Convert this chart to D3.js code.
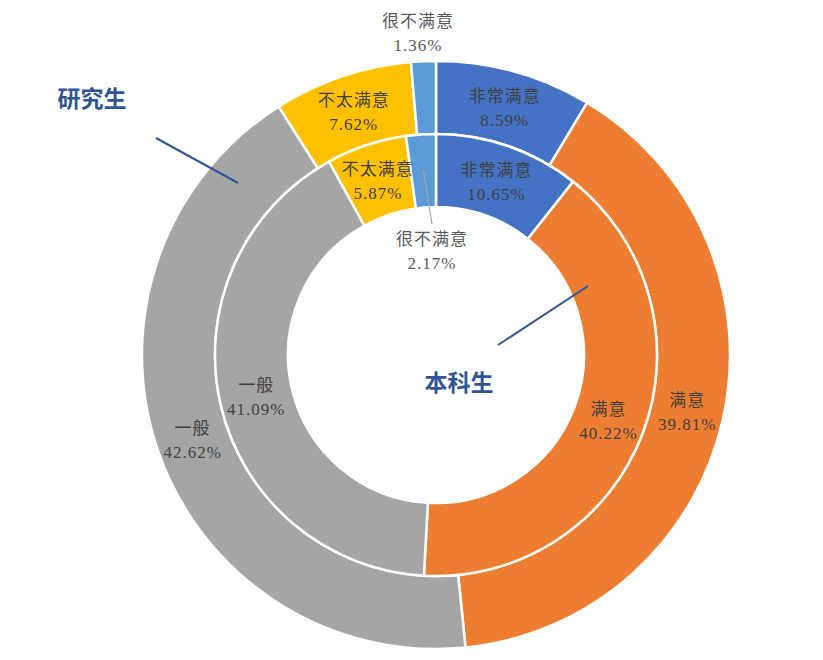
<!DOCTYPE html>
<html>
<head>
<meta charset="utf-8">
<script src="https://cdn.jsdelivr.net/npm/d3@7"></script>
<style>
  html, body { margin: 0; padding: 0; background: #fff; }
</style>
</head>
<body>
<div id="chart"></div>
<script>
/********** Data **********/
var categories = ["非常满意", "满意", "一般", "不太满意", "很不满意"]
var postgrad = [8.59, 39.81, 42.62, 7.62, 1.36]   // outer ring, 研究生
var undergrad = [10.65, 40.22, 41.09, 5.87, 2.17] // inner ring, 本科生
var colors = ["#4472C4", "#ED7D31", "#A5A5A5", "#FFC000", "#5B9BD5"]

/********** Layout **********/
var width = 823, height = 660
var cx = 436, cy = 355
var rOuter = [221, 294], rInner = [148, 221]

var svg = d3.select("#chart").append("svg")
    .attr("width", width)
    .attr("height", height)

var g = svg.append("g")
    .attr("transform", "translate(" + cx + "," + cy + ")")

var color = d3.scaleOrdinal().domain(categories).range(colors)

var pie = d3.pie().sort(null).value(function(d) { return d.v })

function ringData(vals) {
  return pie(vals.map(function(v, i) { return {cat: categories[i], v: v} }))
}

var font = "'Liberation Serif', 'Noto Sans CJK SC', serif"

function drawRing(vals, radii, cls) {
  var arc = d3.arc().innerRadius(radii[0]).outerRadius(radii[1])
  var arcs = ringData(vals)

  g.selectAll("path." + cls)
    .data(arcs)
    .enter().append("path")
      .attr("class", cls)
      .attr("d", arc)
      .attr("fill", function(d) { return color(d.data.cat) })
      .attr("stroke", "#fff")
      .attr("stroke-width", 2.5)
  return {arc: arc, arcs: arcs}
}

var outer = drawRing(postgrad, rOuter, "outer")
var inner = drawRing(undergrad, rInner, "inner")

function addLabel(x, y, d, fill) {
  var t = g.append("text")
      .attr("text-anchor", "middle")
      .style("font-family", font)
      .style("font-size", "17px")
      .style("letter-spacing", "1px")
      .attr("fill", fill)
  t.append("tspan").attr("x", x).attr("y", y - 5).text(d.data.cat)
  t.append("tspan").attr("x", x).attr("y", y + 19).text(d.data.v.toFixed(2) + "%")
}

// labels inside the slices, last (small) slice gets an outside label
outer.arcs.forEach(function(d, i) {
  var c = outer.arc.centroid(d)
  if (i === categories.length - 1) {
    addLabel(-18, -rOuter[1] - 29, d, "#595959")
  } else {
    addLabel(c[0], c[1], d, "#404040")
  }
})

inner.arcs.forEach(function(d, i) {
  var c = inner.arc.centroid(d)
  if (i === categories.length - 1) {
    // leader line into the hole
    var a = (d.startAngle + d.endAngle) / 2
    var r0 = (rInner[0] + rInner[1]) / 2
    g.append("line")
      .attr("x1", Math.sin(a) * r0).attr("y1", -Math.cos(a) * r0)
      .attr("x2", -4).attr("y2", -131)
      .attr("stroke", "#A6A6A6")
      .attr("stroke-width", 1.2)
    addLabel(-4, -105, d, "#595959")
  } else {
    addLabel(c[0], c[1], d, "#404040")
  }
})

/********** Series callouts **********/
var callouts = [
  {name: "研究生", tx: 92, ty: 97, x1: 156, y1: 138, x2: 238, y2: 183},
  {name: "本科生", tx: 459, ty: 381, x1: 588, y1: 286, x2: 498, y2: 345}
]

callouts.forEach(function(c) {
  svg.append("line")
    .attr("x1", c.x1).attr("y1", c.y1)
    .attr("x2", c.x2).attr("y2", c.y2)
    .attr("stroke", "#2F5597")
    .attr("stroke-width", 2)
  svg.append("text")
    .attr("x", c.tx).attr("y", c.ty)
    .attr("text-anchor", "middle")
    .attr("dominant-baseline", "central")
    .style("font-family", "'Noto Sans CJK SC', sans-serif")
    .style("font-weight", "bold")
    .style("font-size", "23px")
    .attr("fill", "#2F5597")
    .text(c.name)
})
</script>
</body>
</html>
